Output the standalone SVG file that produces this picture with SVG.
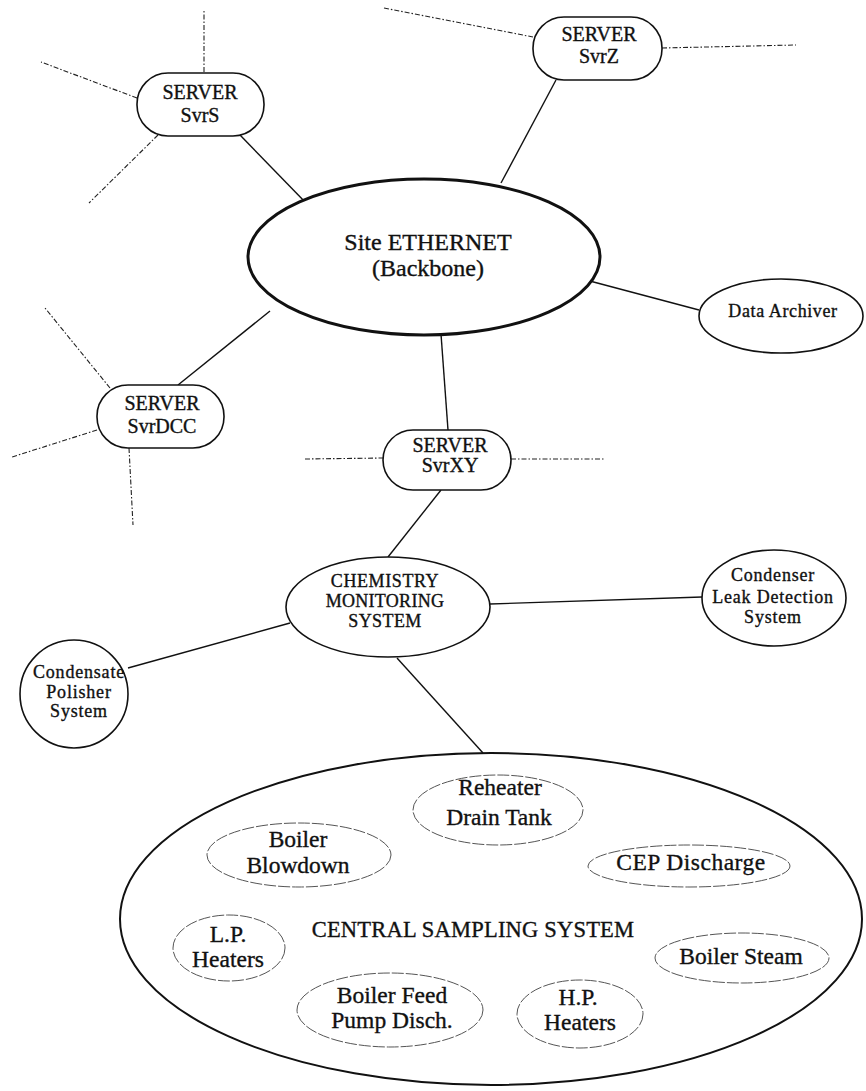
<svg xmlns="http://www.w3.org/2000/svg" width="866" height="1091" viewBox="0 0 866 1091">
<style>
  text { font-family: "Liberation Serif", "Times New Roman", serif; fill: #111; text-anchor: middle; stroke: #111; stroke-width: 0.35; }
  .node { fill: #fff; stroke: #111; stroke-width: 1.6; }
  .thick { fill: #fff; stroke: #111; stroke-width: 3; }
  .sub { fill: none; stroke: #555; stroke-width: 1; stroke-dasharray: 12 2; }
  .link { stroke: #111; stroke-width: 1.4; fill: none; }
  .dash { stroke: #222; stroke-width: 1.1; fill: none; stroke-dasharray: 5 2 1.5 2; }
  .srv { font-size: 20px; }
  .med { font-size: 18px; }
  .wide { letter-spacing: 0.8px; }
  .big { font-size: 23.5px; }
</style>
<rect width="866" height="1091" fill="#fff"/>
<g id="connectors">
  <line class="dash" x1="204" y1="72" x2="204" y2="10"/>
  <line class="dash" x1="137" y1="98" x2="41" y2="62"/>
  <line class="dash" x1="158" y1="135" x2="89" y2="203"/>
  <line class="link" x1="240" y1="135" x2="307" y2="204"/>
  <line class="dash" x1="384" y1="8" x2="533" y2="37"/>
  <line class="dash" x1="662" y1="48" x2="796" y2="45"/>
  <line class="link" x1="556" y1="80" x2="501" y2="183"/>
  <line class="link" x1="586" y1="280" x2="699" y2="310"/>
  <line class="dash" x1="110" y1="388" x2="45" y2="308"/>
  <line class="dash" x1="97" y1="430" x2="12" y2="457"/>
  <line class="dash" x1="129" y1="448" x2="133" y2="525"/>
  <line class="link" x1="178" y1="385" x2="270" y2="311"/>
  <line class="link" x1="441" y1="334" x2="448" y2="430"/>
  <line class="dash" x1="305" y1="459" x2="383" y2="458"/>
  <line class="dash" x1="511" y1="459" x2="605" y2="459"/>
  <line class="link" x1="441" y1="490" x2="388" y2="557"/>
  <line class="link" x1="490" y1="604" x2="702" y2="597"/>
  <line class="link" x1="128" y1="668" x2="290" y2="623"/>
  <line class="link" x1="397" y1="658" x2="483" y2="753"/>
</g>
<g id="svrS">
  <rect class="node" x="137" y="73" width="127" height="63" rx="31" ry="31"/>
  <text class="srv" x="200" y="99">SERVER</text>
  <text class="srv" x="200" y="122">SvrS</text>
</g>
<g id="svrZ">
  <rect class="node" x="533" y="17" width="129" height="63" rx="31" ry="31"/>
  <text class="srv" x="599" y="41">SERVER</text>
  <text class="srv" x="599" y="63">SvrZ</text>
</g>
<g id="ethernet">
  <ellipse class="thick" cx="424" cy="257" rx="176" ry="78"/>
  <text x="428" y="250" style="font-size:24px">Site ETHERNET</text>
  <text x="428" y="276" style="font-size:24px">(Backbone)</text>
</g>
<g id="dataArchiver">
  <ellipse class="node" cx="781" cy="316" rx="82" ry="37"/>
  <text class="med" x="783" y="317" style="letter-spacing:0.6px">Data Archiver</text>
</g>
<g id="svrDCC">
  <rect class="node" x="97" y="385" width="127" height="63" rx="31" ry="31"/>
  <text class="srv" x="162" y="410">SERVER</text>
  <text class="srv" x="162" y="433">SvrDCC</text>
</g>
<g id="svrXY">
  <rect class="node" x="383" y="430" width="128" height="60" rx="30" ry="30"/>
  <text class="srv" x="450" y="452">SERVER</text>
  <text class="srv" x="450" y="472">SvrXY</text>
</g>
<g id="cms">
  <ellipse class="node" cx="388" cy="607" rx="102" ry="50"/>
  <text class="med" x="385" y="587" style="letter-spacing:0.6px">CHEMISTRY</text>
  <text class="med" x="385" y="607" style="letter-spacing:0.3px">MONITORING</text>
  <text class="med" x="385" y="627" style="letter-spacing:0.4px">SYSTEM</text>
</g>
<g id="condenser">
  <ellipse class="node" cx="774" cy="598" rx="72" ry="48"/>
  <text class="med wide" x="773" y="581">Condenser</text>
  <text class="med wide" x="773" y="603">Leak Detection</text>
  <text class="med wide" x="773" y="623">System</text>
</g>
<g id="polisher">
  <circle class="node" cx="74" cy="694" r="54"/>
  <text class="med wide" x="79" y="678">Condensate</text>
  <text class="med wide" x="79" y="698">Polisher</text>
  <text class="med wide" x="79" y="717">System</text>
</g>
<g id="central">
  <ellipse class="node" cx="491" cy="919" rx="371" ry="166" style="stroke-width:2"/>
  <text x="473" y="937" style="font-size:22.5px;letter-spacing:0.2px">CENTRAL SAMPLING SYSTEM</text>
</g>
<g id="reheater">
  <ellipse class="sub" cx="498" cy="810" rx="85" ry="35"/>
  <text class="big" x="500" y="795">Reheater</text>
  <text class="big" x="499" y="825">Drain Tank</text>
</g>
<g id="blowdown">
  <ellipse class="sub" cx="299" cy="855" rx="92" ry="32"/>
  <text class="big" x="298" y="847">Boiler</text>
  <text class="big" x="298" y="873">Blowdown</text>
</g>
<g id="cep">
  <ellipse class="sub" cx="689" cy="866" rx="101" ry="21"/>
  <text class="big" x="691" y="870" style="letter-spacing:0.5px">CEP Discharge</text>
</g>
<g id="lpHeaters">
  <ellipse class="sub" cx="229" cy="948" rx="56" ry="33"/>
  <text class="big" x="228" y="942">L.P.</text>
  <text class="big" x="228" y="967">Heaters</text>
</g>
<g id="feedPump">
  <ellipse class="sub" cx="390" cy="1010" rx="93" ry="37"/>
  <text class="big" x="392" y="1003">Boiler Feed</text>
  <text class="big" x="392" y="1028">Pump Disch.</text>
</g>
<g id="hpHeaters">
  <ellipse class="sub" cx="580" cy="1014" rx="63" ry="34"/>
  <text class="big" x="578" y="1005">H.P.</text>
  <text class="big" x="580" y="1030">Heaters</text>
</g>
<g id="boilerSteam">
  <ellipse class="sub" cx="742" cy="958" rx="87" ry="25"/>
  <text class="big" x="741" y="964">Boiler Steam</text>
</g>
</svg>
